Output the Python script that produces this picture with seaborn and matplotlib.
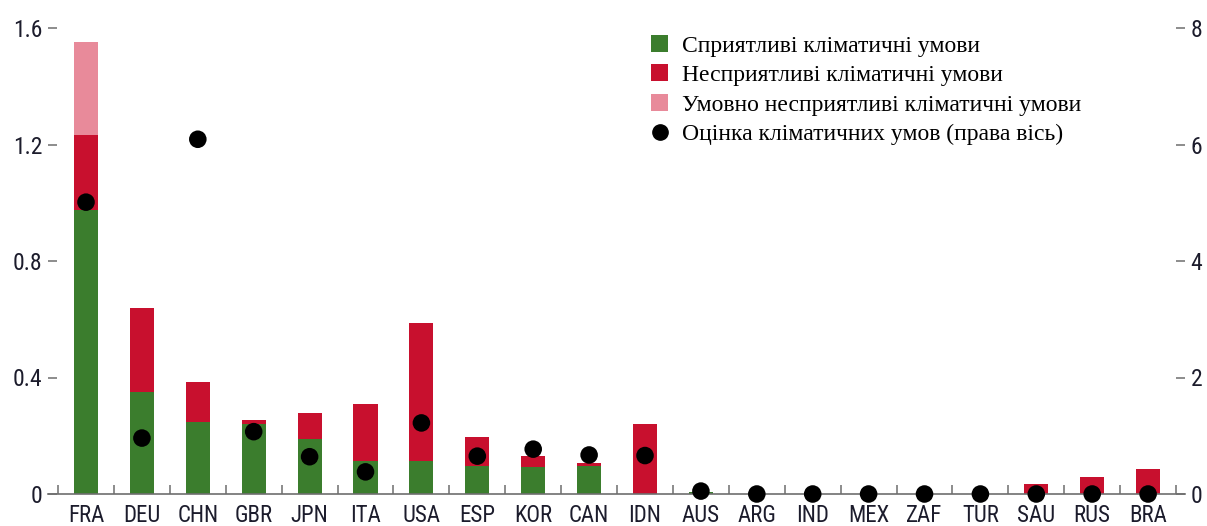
import numpy as np
import pandas as pd
import matplotlib
matplotlib.use("Agg")
import matplotlib.pyplot as plt
from matplotlib.patches import Patch
from matplotlib.lines import Line2D
from matplotlib.ticker import FixedLocator
import seaborn as sns

# --- data -------------------------------------------------------------
countries = ["FRA", "DEU", "CHN", "GBR", "JPN", "ITA", "USA", "ESP", "KOR", "CAN",
             "IDN", "AUS", "ARG", "IND", "MEX", "ZAF", "TUR", "SAU", "RUS", "BRA"]
favorable = [0.975, 0.351, 0.248, 0.240, 0.189, 0.114, 0.114, 0.097, 0.093, 0.097,
             0.0, 0.006, 0.0, 0.0, 0.0, 0.0, 0.0, 0.0, 0.0, 0.0]
unfavorable = [0.258, 0.288, 0.138, 0.014, 0.088, 0.195, 0.473, 0.100, 0.037, 0.008,
               0.239, 0.0, 0.0, 0.0, 0.0, 0.0, 0.0, 0.033, 0.060, 0.085]
conditional = [0.320, 0.0, 0.0, 0.0, 0.0, 0.0, 0.0, 0.0, 0.0, 0.0,
               0.0, 0.0, 0.0, 0.0, 0.0, 0.0, 0.0, 0.0, 0.0, 0.0]
score = [5.01, 0.96, 6.09, 1.07, 0.64, 0.38, 1.22, 0.65, 0.77, 0.67,
         0.66, 0.05, 0.0, 0.0, 0.0, 0.0, 0.0, 0.0, 0.0, 0.0]
left_ticks = [0, 0.4, 0.8, 1.2, 1.6]
left_tick_labels = ["0", "0.4", "0.8", "1.2", "1.6"]
right_ticks = [0, 2, 4, 6, 8]

legend_labels = ["Сприятливі кліматичні умови",
                 "Несприятливі кліматичні умови",
                 "Умовно несприятливі кліматичні умови",
                 "Оцінка кліматичних умов (права вісь)"]

GREEN = "#3b7d2d"
RED = "#c8102e"
PINK = "#e88a9a"
TEXT = "#1c1c2c"
GREY = "#6e6e6e"

df = pd.DataFrame({"country": countries,
                   "fav": favorable,
                   "unfav": unfavorable,
                   "cond": conditional,
                   "score": score})
df["lvl2"] = df["fav"] + df["unfav"]
df["lvl3"] = df["lvl2"] + df["cond"]

sns.set_theme(style="white")
plt.rcParams["font.family"] = ["Roboto Condensed", "Liberation Sans Narrow",
                               "Liberation Sans", "DejaVu Sans"]

fig = plt.figure(figsize=(12.07, 5.26), dpi=100)
ax = fig.add_axes([48 / 1207, 32 / 526, 1137 / 1207, 466 / 526])

# stacked bars drawn as overlaid cumulative totals
bw = 0.43
for col, colr in (("lvl3", PINK), ("lvl2", RED), ("fav", GREEN)):
    sns.barplot(data=df, x="country", y=col, order=countries, color=colr,
                saturation=1, width=bw, ax=ax, linewidth=0, errorbar=None)

ax.set_xlim(-0.68, 19.66)
ax.set_ylim(0, 1.6)
ax.set_xlabel("")
ax.set_ylabel("")

for s in ("top", "right", "left"):
    ax.spines[s].set_visible(False)
ax.spines["bottom"].set_color(GREY)
ax.spines["bottom"].set_linewidth(1.2)

# category labels at bar centres, separator ticks between categories
ax.xaxis.set_major_locator(FixedLocator(np.arange(len(countries))))
ax.set_xticklabels(countries)
ax.xaxis.set_minor_locator(FixedLocator(np.arange(len(countries) + 1) - 0.5))
ax.tick_params(axis="x", which="major", length=0, pad=7, labelsize=16.5, labelcolor=TEXT)
ax.tick_params(axis="x", which="minor", bottom=True, direction="in", length=6.5,
               width=1.1, color=GREY)

ax.set_yticks(left_ticks)
ax.set_yticklabels(left_tick_labels)
ax.tick_params(axis="y", left=True, direction="in", length=6.5, width=1.1,
               color=GREY, pad=4, labelsize=17, labelcolor=TEXT)

# right axis: climate score dots
ax2 = ax.twinx()
sns.scatterplot(data=df, x="country", y="score", ax=ax2, color="black", s=160,
                edgecolor="none", clip_on=False, zorder=5, legend=False)
ax2.set_xlim(-0.68, 19.66)
ax2.set_ylim(0, 8)
ax2.set_ylabel("")
ax2.set_xlabel("")
for s in ("top", "left", "bottom", "right"):
    ax2.spines[s].set_visible(False)
ax2.set_yticks(right_ticks)
ax2.tick_params(axis="y", right=True, direction="in", length=6.5, width=1.1,
                color=GREY, pad=4, labelsize=17, labelcolor=TEXT)
for c in ax2.collections:
    c.set_clip_on(False)

handles = [Patch(facecolor=GREEN, edgecolor="none"),
           Patch(facecolor=RED, edgecolor="none"),
           Patch(facecolor=PINK, edgecolor="none"),
           Line2D([], [], marker="o", linestyle="none", color="black",
                  markersize=11)]
leg = ax2.legend(handles, legend_labels, loc="upper left",
                 bbox_to_anchor=((651 - 48) / 1137, (494 - 35) / 466),
                 frameon=False, prop={"family": ["Liberation Serif", "DejaVu Serif"],
                                      "size": 17},
                 handlelength=0.72, handleheight=0.72, handletextpad=0.6,
                 labelspacing=0.33, borderaxespad=0, borderpad=0)
for t in leg.get_texts():
    t.set_color("black")

fig.savefig("out.png", dpi=100)
